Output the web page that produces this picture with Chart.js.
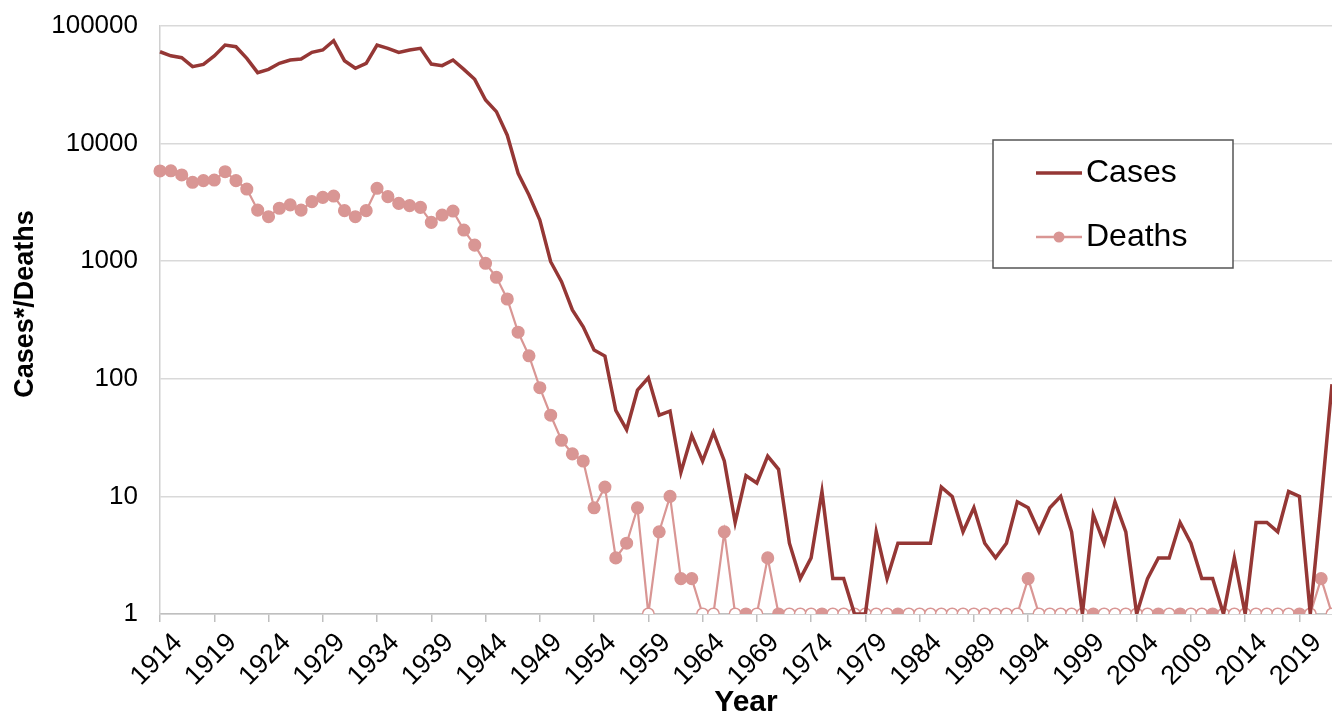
<!DOCTYPE html>
<html>
<head>
<meta charset="utf-8">
<script src="https://cdn.jsdelivr.net/npm/chart.js@4"></script>
<style>
  body { margin: 0; background: #fff; overflow: hidden; }
  #wrap { width: 1332px; height: 711px; }
</style>
</head>
<body>
<div id="wrap"><canvas id="chart" width="1332" height="711"></canvas></div>
<script>
const years = []
for (let y = 1914; y <= 2022; y++) years.push(String(y))

// notified cases, 1914-2022
const cases = [
    60400, 55800, 53700, 45100, 47200, 55600, 68900, 66700, 53100, 40100,
    42800, 48200, 51400, 52400, 59700, 62500, 75000, 50700, 43700, 48200,
    68900, 64600, 59700, 62500, 64600, 47500, 46000, 51400, 42800, 35200,
    23500, 18700, 11800, 5590, 3650, 2240, 990, 670, 385, 277,
    176, 156, 54, 37, 80, 102, 49, 53, 16, 33,
    20, 35, 20, 6, 15, 13, 22, 17, 4, 2,
    3, 11, 2, 2, 1, 1, 5, 2, 4, 4,
    4, 4, 12, 10, 5, 8, 4, 3, 4, 9,
    8, 5, 8, 10, 5, 1, 7, 4, 9, 5,
    1, 2, 3, 3, 6, 4, 2, 2, 1, 3,
    1, 6, 6, 5, 11, 10, 1, 9, 90
]

// deaths, 1914-2022 (0 = open marker sitting on the baseline)
const deaths = [
    5850, 5870, 5410, 4690, 4840, 4900, 5770, 4840, 4110, 2720,
    2390, 2820, 3010, 2720, 3210, 3490, 3580, 2690, 2390, 2690,
    4170, 3540, 3100, 2970, 2870, 2140, 2470, 2670, 1840, 1370,
    960, 730, 477, 249, 157, 84, 49, 30, 23, 20,
    8, 12, 3, 4, 8, 0, 5, 10, 2, 2,
    0, 0, 5, 0, 1, 0, 3, 1, 0, 0,
    0, 1, 0, 0, 0, 0, 0, 0, 1, 0,
    0, 0, 0, 0, 0, 0, 0, 0, 0, 0,
    2, 0, 0, 0, 0, 0, 1, 0, 0, 0,
    0, 0, 1, 0, 1, 0, 0, 1, 0, 0,
    0, 0, 0, 0, 0, 1, 0, 2, 0
]

const yTicks = [1, 10, 100, 1000, 10000, 100000]

const caseColor = "#953735"
const deathColor = "#d99694"
const fontFamily = "'Liberation Sans', Arial, sans-serif"

// log axis has no 0, so zero years sit on the 1 line
const deathsPlot = deaths.map(v => (v === 0 ? 1 : v))

// legend box inside the plot + y title, like the original
const extras = {
    id: "extras",
    afterDraw(chart) {
        const { ctx, chartArea } = chart
        ctx.save()

        ctx.translate(26, 304)
        ctx.rotate(-Math.PI / 2)
        ctx.font = "bold 27px " + fontFamily
        ctx.fillStyle = "#000"
        ctx.textAlign = "center"
        ctx.textBaseline = "middle"
        ctx.fillText("Cases*/Deaths", 0, 0)
        ctx.setTransform(1, 0, 0, 1, 0, 0)

        const x = chartArea.right - 339
        const y = chartArea.top + 114
        ctx.fillStyle = "#fff"
        ctx.fillRect(x, y, 240, 128)
        ctx.strokeStyle = "#555"
        ctx.lineWidth = 1.5
        ctx.strokeRect(x, y, 240, 128)

        ctx.font = "32px " + fontFamily
        ctx.textAlign = "left"
        ctx.textBaseline = "middle"

        ctx.strokeStyle = caseColor
        ctx.lineWidth = 3.5
        ctx.beginPath()
        ctx.moveTo(x + 43, y + 33)
        ctx.lineTo(x + 89, y + 33)
        ctx.stroke()
        ctx.fillStyle = "#000"
        ctx.fillText(chart.data.datasets[0].label, x + 93, y + 33)

        ctx.strokeStyle = deathColor
        ctx.lineWidth = 2.5
        ctx.beginPath()
        ctx.moveTo(x + 43, y + 97)
        ctx.lineTo(x + 89, y + 97)
        ctx.stroke()
        ctx.fillStyle = deathColor
        ctx.beginPath()
        ctx.arc(x + 66, y + 97, 5.5, 0, Math.PI * 2)
        ctx.fill()
        ctx.fillStyle = "#000"
        ctx.fillText(chart.data.datasets[1].label, x + 93, y + 97)
        ctx.restore()
    }
}

new Chart(document.getElementById("chart"), {
    type: "line",
    data: {
        labels: years,
        datasets: [
            {
                label: "Cases",
                data: cases,
                borderColor: caseColor,
                borderWidth: 3.5,
                pointRadius: 0,
                tension: 0
            },
            {
                label: "Deaths",
                data: deathsPlot,
                borderColor: deathColor,
                borderWidth: 2.2,
                pointRadius: 5.8,
                pointBorderWidth: 1.5,
                pointBorderColor: deathColor,
                pointBackgroundColor: ctx => (deaths[ctx.dataIndex] === 0 ? "#fff" : deathColor),
                tension: 0
            }
        ]
    },
    options: {
        responsive: false,
        animation: false,
        layout: { autoPadding: false, padding: { top: 26, right: 0, left: 0, bottom: 0 } },
        plugins: {
            legend: { display: false },
            tooltip: { enabled: false }
        },
        scales: {
            x: {
                grid: {
                    drawOnChartArea: false,
                    drawTicks: true,
                    tickLength: 8,
                    lineWidth: 1.5,
                    color: ctx => (ctx.index % 5 === 0 ? "#bfbfbf" : "rgba(0,0,0,0)")
                },
                border: { color: "#bfbfbf", width: 1.5 },
                ticks: {
                    autoSkip: false,
                    maxRotation: 45,
                    minRotation: 45,
                    padding: 5,
                    labelOffset: 18,
                    color: "#000",
                    font: { family: fontFamily, size: 27 },
                    callback: (v, i) => (i % 5 === 0 ? years[i] : "")
                },
                title: {
                    display: true,
                    text: "Year",
                    color: "#000",
                    font: { family: fontFamily, size: 30, weight: "bold" },
                    padding: { top: 0, bottom: -10 }
                },
                afterFit: s => {
                    s.height = 97
                    s.paddingRight = 0
                }
            },
            y: {
                type: "logarithmic",
                min: 1,
                max: 100000,
                afterBuildTicks: s => {
                    s.ticks = yTicks.map(v => ({ value: v }))
                },
                grid: { color: "#d9d9d9", lineWidth: 1.5, drawTicks: false },
                border: { color: "#d0d0d0", width: 1.5 },
                ticks: {
                    padding: 22,
                    color: "#000",
                    font: { family: fontFamily, size: 26 },
                    callback: v => String(v)
                },
                title: { display: false },
                afterFit: s => {
                    s.width = 160
                    s.paddingTop = 0
                    s.paddingBottom = 0
                }
            }
        }
    },
    plugins: [extras]
})
</script>
</body>
</html>
